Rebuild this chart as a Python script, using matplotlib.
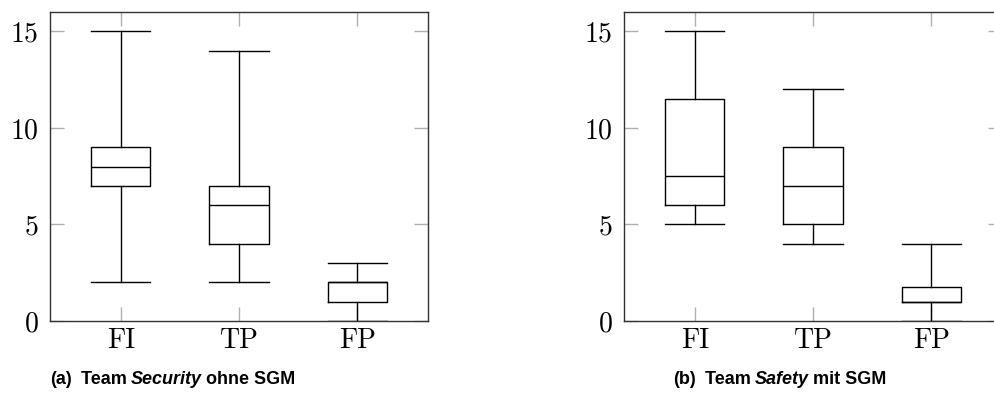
import matplotlib.pyplot as plt
from matplotlib.offsetbox import TextArea, HPacker, AnchoredOffsetbox

categories = ["FI", "TP", "FP"]

# (whislo, q1, med, q3, whishi)
sec_low = [2, 2, 0]
sec_q1 = [7, 4, 1]
sec_med = [8, 6, 2]
sec_q3 = [9, 7, 2]
sec_high = [15, 14, 3]

saf_low = [5, 4, 0]
saf_q1 = [6, 5, 1]
saf_med = [7.5, 7, 1]
saf_q3 = [11.5, 9, 1.75]
saf_high = [15, 12, 4]

yticks = [0, 5, 10, 15]


def make_stats(low, q1, med, q3, high):
    return [dict(label=c, whislo=a, q1=b, med=m, q3=d, whishi=e)
            for c, a, b, m, d, e in zip(categories, low, q1, med, q3, high)]


fig = plt.figure(figsize=(9.95, 4.08), dpi=100)
ax1 = fig.add_axes([50 / 995, 87 / 408, 378 / 995, 309 / 408])
ax2 = fig.add_axes([624 / 995, 87 / 408, 378 / 995, 309 / 408])

lp = dict(color="black", linewidth=1.0)

for ax, stats in [(ax1, make_stats(sec_low, sec_q1, sec_med, sec_q3, sec_high)),
                  (ax2, make_stats(saf_low, saf_q1, saf_med, saf_q3, saf_high))]:
    ax.bxp(stats, positions=[1, 2, 3], widths=0.5, showfliers=False,
           boxprops=lp, whiskerprops=lp, capprops=lp, medianprops=lp,
           capwidths=0.5)
    ax.set_xlim(0.4, 3.6)
    ax.set_ylim(0, 16)
    ax.set_yticks(yticks)
    ax.set_xticks([1, 2, 3])
    ax.set_xticklabels(categories)
    ax.tick_params(direction="in", length=10, width=1, color="#b0b0b0",
                   top=True, right=True, labelsize=20)
    ax.tick_params(axis="y", pad=8)
    ax.tick_params(axis="x", pad=5)
    for lab in ax.get_xticklabels() + ax.get_yticklabels():
        lab.set_fontfamily("cmr10")
    for s in ax.spines.values():
        s.set_color("#333333")
        s.set_linewidth(1.0)


def caption(parts, xc):
    boxes = []
    for txt, style in parts:
        boxes.append(TextArea(txt, textprops=dict(fontsize=13, fontweight="bold",
                                                  fontstyle=style,
                                                  family="Liberation Sans")))
    pack = HPacker(children=boxes, align="baseline", pad=0, sep=3)
    ab = AnchoredOffsetbox(loc="center", child=pack, frameon=False,
                           bbox_to_anchor=(xc, 1 - 379 / 408),
                           bbox_transform=fig.transFigure, borderpad=0, pad=0)
    fig.add_artist(ab)


caption([("(a)", "normal"), (" Team", "normal"), ("Security", "italic"),
         ("ohne SGM", "normal")], 173 / 995)
caption([("(b)", "normal"), (" Team", "normal"), ("Safety", "italic"),
         ("mit SGM", "normal")], 780 / 995)

fig.savefig("out.png", dpi=100)
